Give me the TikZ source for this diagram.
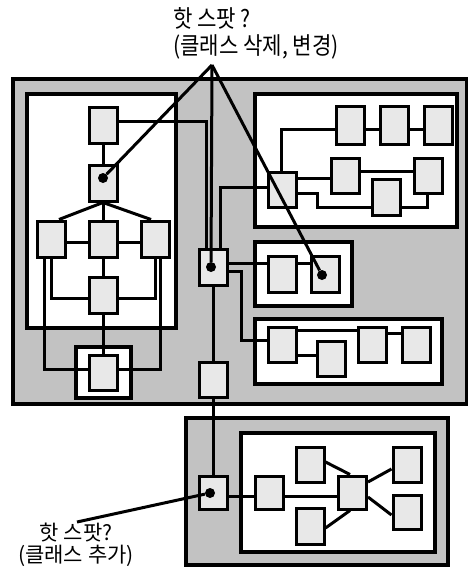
\documentclass[tikz,border=0pt]{standalone}
\usepackage{fontspec}
\newfontfamily\krfont{Noto Sans CJK KR}
\newfontfamily\krnarrow[FakeStretch=0.88]{Noto Sans CJK KR}
\usepackage{tikz}
\usetikzlibrary{positioning,calc,fit}
\definecolor{cpkg}{RGB}{194,194,194}
\definecolor{ccls}{RGB}{232,232,232}

\begin{document}
\begin{tikzpicture}[x=1pt,y=-1pt,
  cls/.style={rectangle,draw,fill=ccls,line width=3pt,minimum width=28pt,minimum height=36pt,inner sep=0},
  hotdot/.style={circle,fill=black,minimum size=10pt,inner sep=0},
  pkg/.style={rectangle,draw,fill=cpkg,line width=3.2pt,inner sep=0},
  mdl/.style={rectangle,draw,fill=white,line width=3.2pt,inner sep=0},
  wire/.style={line width=3pt},
  lbl/.style={inner sep=0},
]
\useasboundingbox (0,0) rectangle (468,567);
% --- packages and modules ---
\node[pkg,fit={(13,79)(467,404)}] (upper) {};
\node[mdl,fit={(27,94)(176,328)}] (modL) {};
\node[mdl,fit={(255,94)(457,227)}] (modA) {};
\node[mdl,fit={(255,242)(352,306)}] (modS) {};
\node[mdl,fit={(255,319)(442,384)}] (modC) {};
\node[mdl,fit={(76,347)(131,398)}] (modE) {};
\node[pkg,fit={(186,418)(448,565)}] (lower) {};
\node[mdl,fit={(241,433)(435,552)}] (modB) {};
% --- left module ---
\node[cls] (lt) at (103,125.5) {};
\node[cls] (lh) at (103,183) {};
\node[cls] (lb) at (103,239) {};
\node[cls,left=21pt of lb] (la) {};
\node[cls,right=21pt of lb] (lc) {};
\node[cls] (ld) at (103,295) {};
\node[cls,minimum height=35pt] (le) at (103,372.5) {};
% --- middle column ---
\node[cls] (mh) at (213.5,267) {};
\node[cls,minimum height=35pt] (mb) at (213.5,379.5) {};
% --- small module ---
\node[cls] (s1) at (282.5,274) {};
\node[cls,right=12pt of s1] (s2) {};
% --- module C ---
\node[cls,minimum height=35pt] (c1) at (282.5,344.5) {};
\node[cls,minimum height=35pt] (c2) at (331,358.5) {};
\node[cls,minimum height=35pt] (c3) at (372.5,344.5) {};
\node[cls,minimum height=35pt,right=13pt of c3] (c4) {};
% --- module A ---
\node[cls,minimum height=37pt] (r1) at (350,125.5) {};
\node[cls,minimum height=37pt,right=13pt of r1] (r2) {};
\node[cls,minimum height=37pt,right=13pt of r2] (r3) {};
\node[cls,minimum height=35pt] (am) at (282.5,189.5) {};
\node[cls,minimum height=35pt] (a1) at (345,175.5) {};
\node[cls] (a2) at (386,197) {};
\node[cls,minimum height=35pt] (a3) at (428,175.5) {};
% --- lower package ---
\node[cls,minimum height=33pt] (bh) at (213.5,492.5) {};
\node[cls,minimum height=33pt] (b1) at (269.5,492.5) {};
\node[cls,minimum height=33pt] (bc) at (352.5,492.5) {};
\node[cls,minimum height=35pt] (bu) at (310,464.5) {};
\node[cls] (bd) at (310,526) {};
\node[cls,minimum height=35pt] (bru) at (407,464.5) {};
\node[cls,minimum height=34pt] (brd) at (407,512) {};
% --- connectors ---
\draw[wire] (lt) -- (lh);
\draw[wire] (lh.south) -- ($(la.north)+(8,0)$);
\draw[wire] (lh) -- (lb);
\draw[wire] (lh.south) -- ($(lc.north)+(-4,0)$);
\draw[wire] ($(la.east)+(0,3)$) -- ($(lb.west)+(0,3)$);
\draw[wire] ($(lb.east)+(0,3)$) -- ($(lc.west)+(0,3)$);
\draw[wire] (lb) -- (ld);
\draw[wire] (la.south) |- ($(ld.west)+(0,3)$);
\draw[wire] (lc.south) |- ($(ld.east)+(0,3)$);
\draw[wire] ($(la.south)+(-6.5,0)$) |- ($(le.west)+(0,-3.5)$);
\draw[wire] ($(lc.south)+(5.5,0)$) |- ($(le.east)+(0,-3.5)$);
\draw[wire] (ld) -- (le);
\draw[wire] ($(lt.east)+(0,-3.5)$) -| ($(mh.north)+(-7.5,0)$);
\draw[wire] ($(mh.north)+(6.5,0)$) |- ($(am.west)+(0,-2.5)$);
\draw[wire] (mh) -- (mb);
\draw[wire] (mb) -- (bh);
\draw[wire] ($(mh.east)+(0,-4)$) -- ($(s1.west)+(0,-11)$);
\draw[wire] ($(s1.east)+(0,-11)$) -- ($(s2.west)+(0,-11)$);
\draw[wire] ($(mh.east)+(0,4)$) -- ++(12,0) |- ($(c1.west)+(0,-4.5)$);
\draw[wire] ($(c1.east)+(0,-14.5)$) -- ($(c3.west)+(0,-14.5)$);
\draw[wire] ($(c1.east)+(0,10.5)$) -- ($(c2.west)+(0,-3.5)$);
\draw[wire] ($(c3.east)+(0,-11.5)$) -- ($(c4.west)+(0,-11.5)$);
\draw[wire] ($(r1.east)+(0,3.5)$) -- ($(r2.west)+(0,3.5)$);
\draw[wire] ($(r2.east)+(0,3.5)$) -- ($(r3.west)+(0,3.5)$);
\draw[wire] ($(am.north)+(-1.5,0)$) |- ($(r1.west)+(0,3.5)$);
\draw[wire] ($(am.east)+(0,-11.5)$) -- ($(a1.west)+(0,2.5)$);
\draw[wire] ($(a1.east)+(0,-4.5)$) -- ($(a3.west)+(0,-4.5)$);
\draw[wire] ($(am.east)+(0,3.5)$) -- ++(19,0) |- ($(a2.west)+(0,10)$);
\draw[wire] ($(a2.east)+(0,10)$) -| ($(a3.south)+(-1,0)$);
\draw[wire] ($(bh.east)+(0,4)$) -- ($(b1.west)+(0,4)$);
\draw[wire] ($(b1.east)+(0,4)$) -- ($(bc.west)+(0,4)$);
\draw[wire] ($(bu.east)+(0,-2.5)$) -- ($(bc.north)+(-2.5,0)$);
\draw[wire] ($(bd.east)+(0,2)$) -- ($(bc.south)+(-2.5,0)$);
\draw[wire] ($(bc.east)+(0,-10.5)$) -- ($(bru.west)+(0,4.5)$);
\draw[wire] ($(bc.east)+(0,4.5)$) -- ($(brd.west)+(0,3)$);
% --- hot spots ---
\node[hotdot] (dl) at (103,178) {};
\node[hotdot] (dm) at (211,267) {};
\node[hotdot] (ds) at (322,275) {};
\node[hotdot] (db) at (210,493) {};
\node[lbl,anchor=north west,align=left,font=\krnarrow\fontsize{24}{27}\selectfont] (hsTop) at (173,7) {핫 스팟 ?\\(클래스 삭제, 변경)};
\coordinate (hsTopTip) at (212,65);
\draw[wire] (hsTopTip) -- (dl);
\draw[wire] (hsTopTip) -- (dm);
\draw[wire] (hsTopTip) -- (ds);
\node[lbl,align=center,font=\krfont\fontsize{21}{22}\selectfont] (hsBot) at (76,545) {핫 스팟?\\(클래스 추가)};
\coordinate (hsBotTip) at (77,522);
\draw[wire] (hsBotTip) -- (db);
\end{tikzpicture}
\end{document}
